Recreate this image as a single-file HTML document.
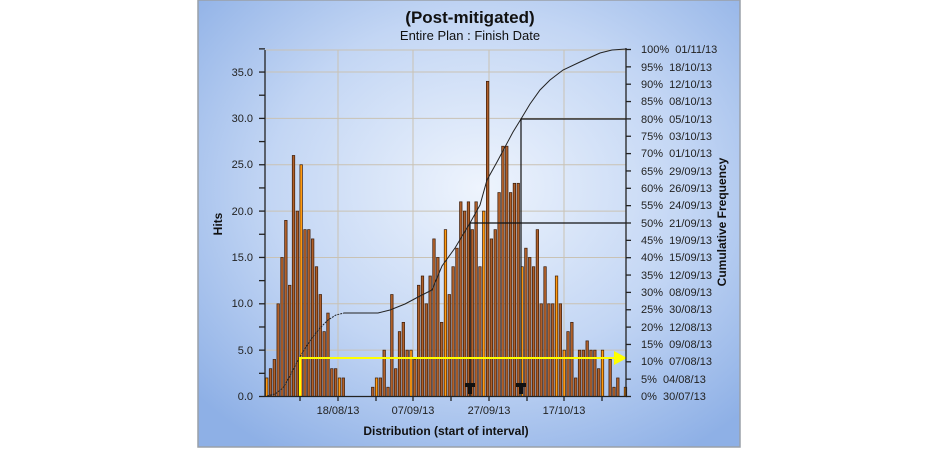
<!DOCTYPE html>
<html><head><meta charset="utf-8"><style>
html,body{margin:0;padding:0;background:#fff;width:940px;height:450px;overflow:hidden}
svg{display:block;font-family:"Liberation Sans",Arial,sans-serif}
</style></head><body>
<svg id="s" width="940" height="450" viewBox="0 0 940 450" xmlns="http://www.w3.org/2000/svg">
<defs>
<radialGradient id="bg" cx="0.52" cy="0.42" r="0.7">
<stop offset="0" stop-color="#eef4fd"/>
<stop offset="0.55" stop-color="#c3d6f4"/>
<stop offset="1" stop-color="#8eb0e6"/>
</radialGradient>
</defs>
<rect x="198" y="0" width="542" height="447" fill="url(#bg)" stroke="#9aa0a8" stroke-width="1.5"/>
<text x="470" y="23" text-anchor="middle" font-size="17" font-weight="bold" fill="#111">(Post-mitigated)</text>
<text x="470" y="40" text-anchor="middle" font-size="13" fill="#111">Entire Plan : Finish Date</text>
<g id="grid" stroke="#c9c2b4" stroke-width="1"></g>
<g id="bars"></g>
<polyline fill="none" stroke="#222" stroke-width="1" stroke-dasharray="2,1" points="267,396 275,394 283,388 290,376 297,362 304,350 312,338 320,328 328,320 336,315 344,313"/>
<polyline fill="none" stroke="#222" stroke-width="1" points="344,313 378,313 390,310 405,304 420,296 432,290 442,266 455,248 470,223 480,205 487,180 497,162 505,147 513,132 521,119 530,104 540,90 550,80 563,70 580,62 600,53 612,50 626,49"/>
<g stroke="#111" stroke-width="1.2" fill="none">
<polyline points="626,119 521,119 521,396"/>
<polyline points="626,223 470,223 470,396"/>
</g>
<g fill="#111">
<path d="M465,383 h10 v4 h-3 v7 h-4 v-7 h-3z"/>
<path d="M516,383 h10 v4 h-3 v7 h-4 v-7 h-3z"/>
</g>
<g stroke="#ffff00" stroke-width="2" fill="none">
<polyline points="300,396 300,358 616,358"/>
</g>
<path d="M614,351 L627,358 L614,365z" fill="#ffff00"/>
<g id="axes" stroke="#222" stroke-width="1.3"></g>
<g font-size="11" fill="#222" id="lt" text-anchor="end">
<text x="253" y="400">0.0</text><text x="253" y="354">5.0</text><text x="253" y="307">10.0</text><text x="253" y="261">15.0</text><text x="253" y="215">20.0</text><text x="253" y="168">25.0</text><text x="253" y="122">30.0</text><text x="253" y="76">35.0</text>
</g>
<g font-size="11" fill="#222" text-anchor="middle">
<text x="338" y="414">18/08/13</text><text x="413" y="414">07/09/13</text><text x="489" y="414">27/09/13</text><text x="564" y="414">17/10/13</text>
</g>
<text x="446" y="435" text-anchor="middle" font-size="12" font-weight="bold" fill="#111">Distribution (start of interval)</text>
<text transform="translate(222,224) rotate(-90)" text-anchor="middle" font-size="12" font-weight="bold" fill="#111">Hits</text>
<text transform="translate(726,222) rotate(-90)" text-anchor="middle" font-size="12" font-weight="bold" fill="#111">Cumulative Frequency</text>
<g font-size="11" fill="#222">
<text x="641" y="400">0%&#160;&#160;30/07/13</text>
<text x="641" y="383">5%&#160;&#160;04/08/13</text>
<text x="641" y="365">10%&#160;&#160;07/08/13</text>
<text x="641" y="348">15%&#160;&#160;09/08/13</text>
<text x="641" y="331">20%&#160;&#160;12/08/13</text>
<text x="641" y="313">25%&#160;&#160;30/08/13</text>
<text x="641" y="296">30%&#160;&#160;08/09/13</text>
<text x="641" y="279">35%&#160;&#160;12/09/13</text>
<text x="641" y="261">40%&#160;&#160;15/09/13</text>
<text x="641" y="244">45%&#160;&#160;19/09/13</text>
<text x="641" y="227">50%&#160;&#160;21/09/13</text>
<text x="641" y="209">55%&#160;&#160;24/09/13</text>
<text x="641" y="192">60%&#160;&#160;26/09/13</text>
<text x="641" y="175">65%&#160;&#160;29/09/13</text>
<text x="641" y="157">70%&#160;&#160;01/10/13</text>
<text x="641" y="140">75%&#160;&#160;03/10/13</text>
<text x="641" y="123">80%&#160;&#160;05/10/13</text>
<text x="641" y="105">85%&#160;&#160;08/10/13</text>
<text x="641" y="88">90%&#160;&#160;12/10/13</text>
<text x="641" y="71">95%&#160;&#160;18/10/13</text>
<text x="641" y="53">100%&#160;&#160;01/11/13</text>
</g>
</svg>
<script>
var NS="http://www.w3.org/2000/svg";
function el(p,t,a){var e=document.createElementNS(NS,t);for(var k in a)e.setAttribute(k,a[k]);p.appendChild(e);return e;}
var g=document.getElementById("grid"),b=document.getElementById("bars"),ax=document.getElementById("axes");
var Y0=396.5,S=9.27;
for(var k=1;k<=7;k++){var y=Y0-5*k*S;el(g,"line",{x1:266,x2:626,y1:y,y2:y});}
el(g,"line",{x1:266,x2:626,y1:50,y2:50});
[338,413,489,564].forEach(function(x){el(g,"line",{x1:x,x2:x,y1:50,y2:396});});
var groups=[[266.7,[2,3,4,10,15,19,12,26,20,25,18,18,17,14,11,7,9,3,3,2,2]],
[372.7,[1,2,2,5,1,11,3,7,8,5,5,4,12,13,10,13,17,15,8,18,11,14,16,21,20,21,18,21,14,20,34,17,18,22,27,27,22,23,23,14,16,15,14,18,10,14,10,10,13,10,5,7,8,2,5,5,6,5,5,3,5,0,4,1,2,0,1]]];
var bright={0:[0,9,19],1:[1,10,19,29,39,48,50,66,60]};
groups.forEach(function(gr,gi){gr[1].forEach(function(h,i){if(!h)return;var cx=gr[0]+i*3.83;
var br=bright[gi].indexOf(i)>=0;
el(b,"rect",{x:cx-1.25,y:Y0-h*S,width:2.5,height:h*S,fill:br?"#ff9a10":"#b0602a",stroke:"#3a1c0a","stroke-width":0.7});});});
el(ax,"line",{x1:265,x2:265,y1:50,y2:397});
el(ax,"line",{x1:265,x2:627,y1:396.5,y2:396.5});
el(ax,"line",{x1:626,x2:626,y1:48,y2:397});
for(var k=0;k<=15;k++){var y=Y0-2.5*k*S;el(ax,"line",{x1:259,x2:265,y1:y,y2:y});}
[300,338,376,413,451,489,527,564,602].forEach(function(x){el(ax,"line",{x1:x,x2:x,y1:396,y2:401});});
for(var k=0;k<=20;k++){var y=396.5-k*17.35;el(ax,"line",{x1:626,x2:631,y1:y,y2:y});}
</script>
</body></html>
